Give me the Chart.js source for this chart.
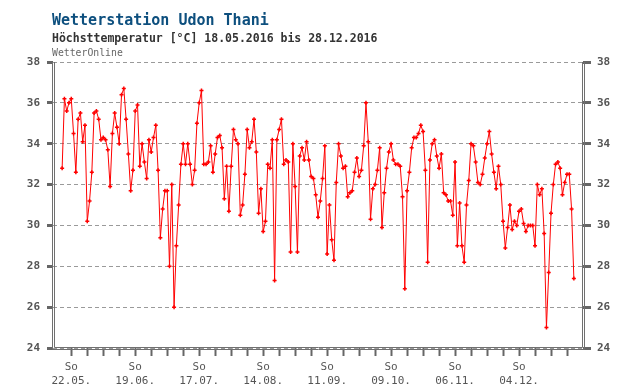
<!DOCTYPE html>
<html>
<head>
<meta charset="utf-8">
<script src="https://cdn.jsdelivr.net/npm/chart.js@4.4.1/dist/chart.umd.min.js"></script>
<style>
  html, body { margin: 0; padding: 0; background: #fff; }
  #wrap { position: relative; width: 640px; height: 390px; overflow: hidden; }
  #c { position: absolute; left: 0; top: 0; }
  .t { position: absolute; left: 52px; white-space: pre; font-family: "DejaVu Sans Mono", monospace; }
  #title { top: 13px; font-size: 15px; line-height: 15px; font-weight: bold; color: #0d4f7e; }
  #sub { top: 32px; font-size: 11.5px; line-height: 12px; font-weight: bold; color: #333; }
  #src { top: 47.5px; font-size: 9.8px; line-height: 10px; color: #666; }
</style>
</head>
<body>
<div id="wrap">
  <canvas id="c" width="640" height="390"></canvas>
  <div class="t" id="title">Wetterstation Udon Thani</div>
  <div class="t" id="sub">Höchsttemperatur [°C] 18.05.2016 bis 28.12.2016</div>
  <div class="t" id="src">WetterOnline</div>
</div>
<script>
// ---- data (daily maximum temperature, 18.05.2016 .. 28.12.2016) ----
const startDate = '18.05.2016';
const tempMay = [32.8, 36.2, 35.6, 36.0, 36.2, 34.5, 32.6, 35.2, 35.5, 34.1, 34.9, 30.2, 31.2, 32.6];
const tempJun = [35.5, 35.6, 35.2, 34.2, 34.3, 34.2, 33.7, 31.9, 34.5, 35.5, 34.8, 34.0, 36.4, 36.7, 35.2, 33.5, 31.7, 32.7, 35.6, 35.9, 32.9, 34.0, 33.1, 32.3, 34.2, 33.6, 34.3, 34.9, 32.7, 29.4];
const tempJul = [30.8, 31.7, 31.7, 28.0, 32.0, 26.0, 29.0, 31.0, 33.0, 34.0, 33.0, 34.0, 33.0, 32.0, 32.7, 35.0, 36.0, 36.6, 33.0, 33.0, 33.1, 33.9, 32.6, 33.5, 34.3, 34.4, 33.8, 31.3, 32.9, 30.7, 32.9];
const tempAug = [34.7, 34.2, 34.0, 30.5, 31.0, 32.5, 34.7, 33.8, 34.1, 35.2, 33.6, 30.6, 31.8, 29.7, 30.2, 33.0, 32.8, 34.2, 27.3, 34.2, 34.7, 35.2, 33.0, 33.2, 33.1, 28.7, 34.0, 31.9, 28.7, 33.4, 33.8];
const tempSep = [33.2, 34.1, 33.2, 32.4, 32.3, 31.5, 30.4, 31.2, 32.3, 33.9, 28.6, 31.0, 29.3, 28.3, 32.1, 34.0, 33.4, 32.8, 32.9, 31.4, 31.6, 31.7, 32.6, 33.3, 32.4, 32.7, 33.9, 36.0, 34.1, 30.3];
const tempOct = [31.8, 32.0, 32.7, 33.8, 29.9, 31.6, 32.8, 33.6, 34.0, 33.2, 33.0, 33.0, 32.9, 31.4, 26.9, 31.7, 32.6, 33.8, 34.3, 34.3, 34.5, 34.9, 34.6, 32.7, 28.2, 33.2, 34.0, 34.2, 33.4, 32.8, 33.5];
const tempNov = [31.6, 31.5, 31.2, 31.2, 30.5, 33.1, 29.0, 31.1, 29.0, 28.2, 31.0, 32.2, 34.0, 33.9, 33.1, 32.1, 32.0, 32.5, 33.3, 34.0, 34.6, 33.5, 32.6, 31.8, 32.9, 32.0, 30.2, 28.9, 29.9, 31.0];
const tempDec = [29.8, 30.2, 30.0, 30.7, 30.8, 30.1, 29.7, 30.0, 30.0, 30.0, 29.0, 32.0, 31.5, 31.8, 29.6, 25.0, 27.7, 30.6, 32.0, 33.0, 33.1, 32.8, 31.5, 32.1, 32.5, 32.5, 30.8, 27.4];

const weekdayLabel = 'So';
const dateLabels = ['22.05.', '19.06.', '17.07.', '14.08.', '11.09.', '09.10.', '06.11.', '04.12.'];
const yTicks = [24, 26, 28, 30, 32, 34, 36, 38];

// ---- derived ----
const values = [].concat(tempMay, tempJun, tempJul, tempAug, tempSep, tempOct, tempNov, tempDec);
const points = values.map((v, i) => ({ x: i, y: v }));   // x = days since startDate
const firstSunday = 4, lastDay = values.length - 1;
const weekTicks = [];
for (let d = firstSunday; d <= lastDay; d += 7) weekTicks.push(d);

const boxPlugin = {
  id: 'box',
  afterDraw(chart) {
    const { ctx, chartArea: a } = chart;
    ctx.save();
    ctx.strokeStyle = '#707070';
    ctx.lineWidth = 1;
    ctx.beginPath();
    // outer
    ctx.moveTo(a.left - 0.5, a.top);
    ctx.lineTo(a.left - 0.5, a.bottom + 1.5);
    ctx.lineTo(a.right + 1.5, a.bottom + 1.5);
    ctx.lineTo(a.right + 1.5, a.top);
    // inner
    ctx.moveTo(a.left + 1.5, a.top);
    ctx.lineTo(a.left + 1.5, a.bottom - 0.5);
    ctx.lineTo(a.right - 0.5, a.bottom - 0.5);
    ctx.lineTo(a.right - 0.5, a.top);
    ctx.stroke();
    ctx.restore();
  }
};

const tickFont = { family: 'DejaVu Sans Mono', size: 11, lineHeight: 1.3 };

new Chart(document.getElementById('c'), {
  type: 'line',
  data: {
    datasets: [{
      data: points,
      borderColor: '#ff0000',
      borderWidth: 1,
      tension: 0,
      pointStyle: 'cross',
      pointRadius: 2,
      pointBorderWidth: 1.5,
      pointBorderColor: '#ff0000',
      pointBackgroundColor: '#ff0000',
      fill: false
    }]
  },
  options: {
    responsive: false,
    animation: false,
    devicePixelRatio: 1,
    layout: { padding: { top: 62, left: 0, right: 0, bottom: 0 } },
    plugins: { legend: { display: false }, tooltip: { enabled: false } },
    scales: {
      x: {
        type: 'linear',
        min: -4,
        max: 228,
        afterBuildTicks: (s) => { s.ticks = weekTicks.map(v => ({ value: v })); },
        afterFit: (s) => { s.height = 42; },
        ticks: {
          autoSkip: false,
          maxRotation: 0,
          minRotation: 0,
          padding: 4,
          color: '#555',
          font: tickFont,
          callback: (v) => {
            const k = (v - firstSunday) / 28;
            return Number.isInteger(k) && dateLabels[k] ? [weekdayLabel, dateLabels[k]] : '';
          }
        },
        grid: { drawOnChartArea: false, drawTicks: true, tickLength: 8, tickWidth: 2, tickColor: '#666', tickBorderDash: [] },
        border: { display: false }
      },
      y: {
        position: 'left',
        min: 24,
        max: 38,
        afterBuildTicks: (s) => { s.ticks = yTicks.map(v => ({ value: v })); },
        afterFit: (s) => { s.width = 53; },
        ticks: { padding: 7, color: '#555', font: { family: 'DejaVu Sans Mono', size: 11, weight: 'bold' } },
        grid: { color: '#9a9a9a', lineWidth: 1, tickLength: 6, tickWidth: 3, tickColor: '#666', tickBorderDash: [] },
        border: { display: false, dash: [4, 3] }
      },
      y2: {
        position: 'right',
        min: 24,
        max: 38,
        afterBuildTicks: (s) => { s.ticks = yTicks.map(v => ({ value: v })); },
        afterFit: (s) => { s.width = 57; },
        ticks: { padding: 6, color: '#555', font: { family: 'DejaVu Sans Mono', size: 11, weight: 'bold' } },
        grid: { drawOnChartArea: false, tickLength: 8, tickWidth: 3, tickColor: '#666', tickBorderDash: [] },
        border: { display: false }
      }
    }
  },
  plugins: [boxPlugin]
});
</script>
</body>
</html>
